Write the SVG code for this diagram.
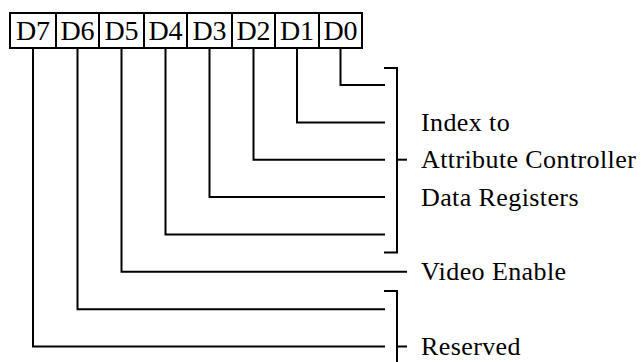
<svg xmlns="http://www.w3.org/2000/svg" width="642" height="362" viewBox="0 0 642 362">
<style>
.box{fill:#fff;stroke:#000;stroke-width:2}
.ln{fill:none;stroke:#000;stroke-width:2;stroke-linecap:square;stroke-linejoin:miter}
.bl{font-family:"Liberation Serif","Times New Roman",serif;font-size:28px;fill:#000;text-anchor:middle}
.lb{font-family:"Liberation Serif","Times New Roman",serif;font-size:26px;fill:#000;letter-spacing:0.4px}
</style>
<rect width="642" height="362" fill="#fff"/>
<g id="register">
<g id="bit-d7"><rect class="box" x="10" y="13" width="46" height="35"/><text class="bl" x="33" y="40">D7</text></g>
<g id="bit-d6"><rect class="box" x="56" y="13" width="43" height="35"/><text class="bl" x="77.5" y="40">D6</text></g>
<g id="bit-d5"><rect class="box" x="99" y="13" width="45" height="35"/><text class="bl" x="121.5" y="40">D5</text></g>
<g id="bit-d4"><rect class="box" x="144" y="13" width="43" height="35"/><text class="bl" x="165.5" y="40">D4</text></g>
<g id="bit-d3"><rect class="box" x="187" y="13" width="45" height="35"/><text class="bl" x="209.5" y="40">D3</text></g>
<g id="bit-d2"><rect class="box" x="232" y="13" width="43" height="35"/><text class="bl" x="253.5" y="40">D2</text></g>
<g id="bit-d1"><rect class="box" x="275" y="13" width="44" height="35"/><text class="bl" x="297" y="40">D1</text></g>
<g id="bit-d0"><rect class="box" x="319" y="13" width="43" height="35"/><text class="bl" x="340.5" y="40">D0</text></g>
</g>
<g id="connectors">
<polyline class="ln" points="340.5,48 340.5,85 384,85"/>
<polyline class="ln" points="297,48 297,122.5 384,122.5"/>
<polyline class="ln" points="253.5,48 253.5,159.7 384,159.7"/>
<polyline class="ln" points="209.5,48 209.5,197 384,197"/>
<polyline class="ln" points="165.5,48 165.5,234.5 384,234.5"/>
<polyline class="ln" points="121.5,48 121.5,271.8 406,271.8"/>
<polyline class="ln" points="77.5,48 77.5,309.2 384,309.2"/>
<polyline class="ln" points="33,48 33,346.5 384,346.5"/>
<polyline class="ln" points="385,68 397,68 397,252.5 385,252.5"/>
<line class="ln" x1="397" y1="159.7" x2="406" y2="159.7"/>
<polyline class="ln" points="385,291 397,291 397,370"/>
<line class="ln" x1="397" y1="346.5" x2="406" y2="346.5"/>
</g>
<g id="labels">
<g id="label-index"><text class="lb" x="421" y="131">Index to</text><text class="lb" x="421" y="168.3">Attribute Controller</text><text class="lb" x="421" y="205.6">Data Registers</text></g>
<g id="label-video"><text class="lb" x="421" y="280.3">Video Enable</text></g>
<g id="label-reserved"><text class="lb" x="421" y="355">Reserved</text></g>
</g>
</svg>
